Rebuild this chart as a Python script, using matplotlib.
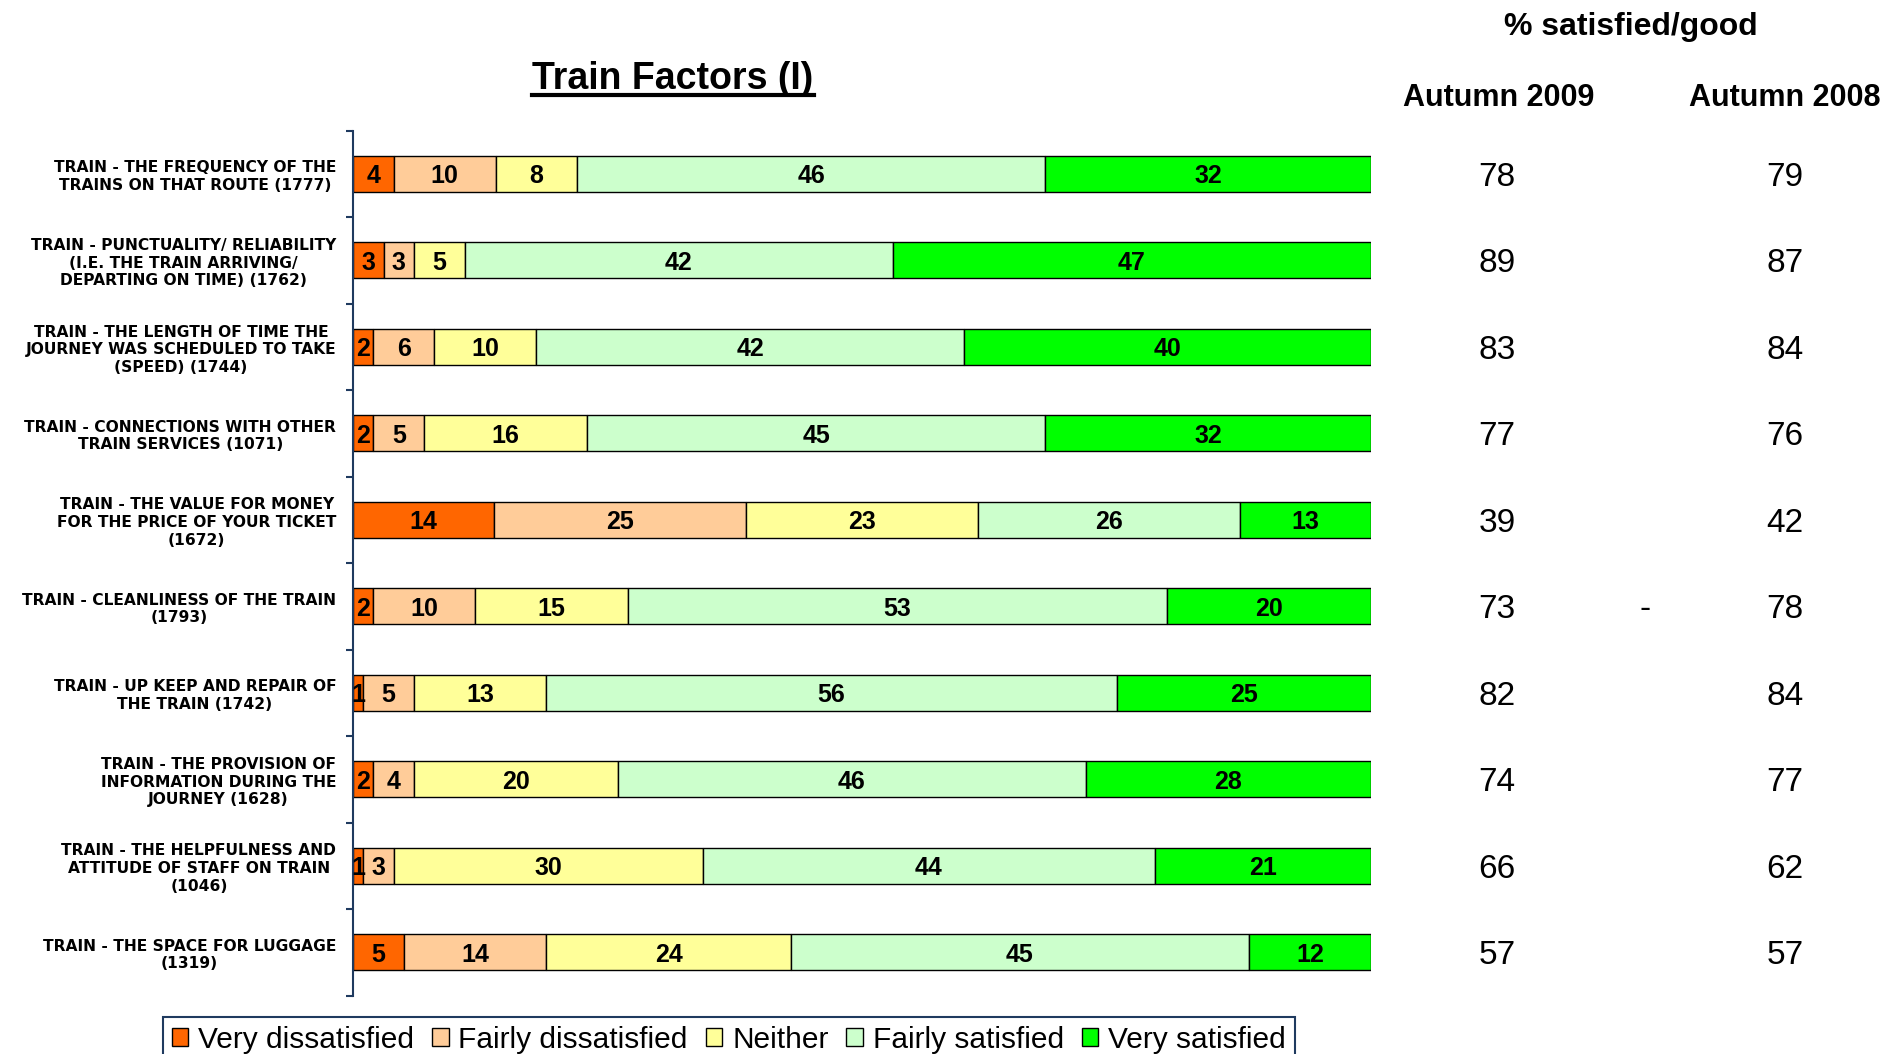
import numpy as np
import matplotlib
matplotlib.use("Agg")
import matplotlib.pyplot as plt
from matplotlib.patches import Patch
from matplotlib.lines import Line2D
import matplotlib.transforms as mtransforms

# ---------------- data ----------------
categories = [
    "TRAIN - THE FREQUENCY OF THE\nTRAINS ON THAT ROUTE (1777)",
    "TRAIN - PUNCTUALITY/ RELIABILITY\n(I.E. THE TRAIN ARRIVING/\nDEPARTING ON TIME) (1762)",
    "TRAIN - THE LENGTH OF TIME THE\nJOURNEY WAS SCHEDULED TO TAKE\n(SPEED) (1744)",
    "TRAIN - CONNECTIONS WITH OTHER\nTRAIN SERVICES (1071)",
    "TRAIN - THE VALUE FOR MONEY\nFOR THE PRICE OF YOUR TICKET\n(1672)",
    "TRAIN - CLEANLINESS OF THE TRAIN\n(1793)",
    "TRAIN - UP KEEP AND REPAIR OF\nTHE TRAIN (1742)",
    "TRAIN - THE PROVISION OF\nINFORMATION DURING THE\nJOURNEY (1628)",
    "TRAIN - THE HELPFULNESS AND\nATTITUDE OF STAFF ON TRAIN\n(1046)",
    "TRAIN - THE SPACE FOR LUGGAGE\n(1319)",
]
series_names = ["Very dissatisfied", "Fairly dissatisfied", "Neither",
                "Fairly satisfied", "Very satisfied"]
very_dissatisfied = [4, 3, 2, 2, 14, 2, 1, 2, 1, 5]
fairly_dissatisfied = [10, 3, 6, 5, 25, 10, 5, 4, 3, 14]
neither = [8, 5, 10, 16, 23, 15, 13, 20, 30, 24]
fairly_satisfied = [46, 42, 42, 45, 26, 53, 56, 46, 44, 45]
very_satisfied = [32, 47, 40, 32, 13, 20, 25, 28, 21, 12]
autumn_2009 = [78, 89, 83, 77, 39, 73, 82, 74, 66, 57]
autumn_2008 = [79, 87, 84, 76, 42, 78, 84, 77, 62, 57]
change_marks = ["", "", "", "", "", "-", "", "", "", ""]

colors = ["#FF6600", "#FFCC99", "#FFFF99", "#CCFFCC", "#00FF00"]

ARIAL = "Liberation Sans"
NAVY = "#1F3A5F"

W, H = 1902, 1054
fig = plt.figure(figsize=(W / 100, H / 100), dpi=100)
fig.patch.set_facecolor("white")

top_px, bot_px = 130.6, 995.5
ax = fig.add_axes([353 / W, 1 - bot_px / H, (1371 - 353) / W, (bot_px - top_px) / H])

data = np.array([very_dissatisfied, fairly_dissatisfied, neither,
                 fairly_satisfied, very_satisfied], dtype=float)
totals = data.sum(axis=0)
pct = data / totals * 100.0

y = np.arange(len(categories))
left = np.zeros(len(categories))
for i in range(len(series_names)):
    ax.barh(y, pct[i], left=left, height=0.42, color=colors[i],
            edgecolor="black", linewidth=1.0, label=series_names[i], zorder=2)
    for j in range(len(categories)):
        ax.text(left[j] + pct[i][j] / 2, y[j], str(int(data[i][j])),
                ha="center", va="center_baseline", fontsize=18,
                fontweight="bold", family=ARIAL, color="black", zorder=3)
    left = left + pct[i]

ax.set_xlim(0, 100)
ax.set_ylim(len(categories) - 0.5, -0.5)
for s in ["top", "right", "bottom"]:
    ax.spines[s].set_visible(False)
ax.spines["left"].set_color(NAVY)
ax.spines["left"].set_linewidth(1.5)
ax.set_xticks([])
ax.set_yticks(y)
ax.set_yticklabels(categories)
ax.set_yticks(np.arange(len(categories) + 1) - 0.5, minor=True)
ax.tick_params(axis="y", which="major", length=0, pad=12)
ax.tick_params(axis="y", which="minor", length=5, width=1.5, color=NAVY,
               direction="out")
for lab in ax.get_yticklabels():
    lab.set_fontsize(11.2)
    lab.set_fontweight("bold")
    lab.set_family("DejaVu Sans")
    lab.set_multialignment("center")
    lab.set_linespacing(1.22)

# ---------------- right-hand columns ----------------
tr = mtransforms.blended_transform_factory(fig.transFigure, ax.transData)
for j in range(len(categories)):
    ax.text(1497 / W, y[j], str(autumn_2009[j]), transform=tr, ha="center",
            va="center_baseline", fontsize=24, family=ARIAL, color="black")
    ax.text(1785 / W, y[j], str(autumn_2008[j]), transform=tr, ha="center",
            va="center_baseline", fontsize=24, family=ARIAL, color="black")
    if change_marks[j]:
        ax.text(1645 / W, y[j], change_marks[j], transform=tr, ha="center",
                va="center_baseline", fontsize=24, family=ARIAL, color="black")

fig.text(1631 / W, 1 - 35 / H, "% satisfied/good", ha="center", va="baseline",
         fontsize=23, fontweight="bold", family=ARIAL)
fig.text(1499 / W, 1 - 106 / H, "Autumn 2009", ha="center", va="baseline",
         fontsize=22, fontweight="bold", family=ARIAL)
fig.text(1785 / W, 1 - 106 / H, "Autumn 2008", ha="center", va="baseline",
         fontsize=22, fontweight="bold", family=ARIAL)

# ---------------- title ----------------
title = fig.text(673 / W, 1 - 89 / H, "Train Factors (I)", ha="center",
                 va="baseline", fontsize=27, fontweight="bold", family=ARIAL)
fig.canvas.draw()
bb = title.get_window_extent(fig.canvas.get_renderer())
uy = 1 - 95 / H
fig.add_artist(Line2D([bb.x0 / W, bb.x1 / W], [uy, uy], color="black",
                      linewidth=3, transform=fig.transFigure))

# ---------------- legend ----------------
handles = [Patch(facecolor=c, edgecolor="black", linewidth=1.0) for c in colors]
leg = fig.legend(handles, series_names, loc="upper left",
                 bbox_to_anchor=(163 / W, 1 - 1017 / H), borderaxespad=0,
                 ncol=5, frameon=True, fancybox=False, framealpha=1,
                 edgecolor=NAVY, handlelength=0.55, handleheight=0.55,
                 handletextpad=0.33, columnspacing=0.6, borderpad=0.3,
                 prop={"family": ARIAL, "size": 21.5})
leg.get_frame().set_linewidth(1.5)

fig.savefig("out.png", dpi=100)
